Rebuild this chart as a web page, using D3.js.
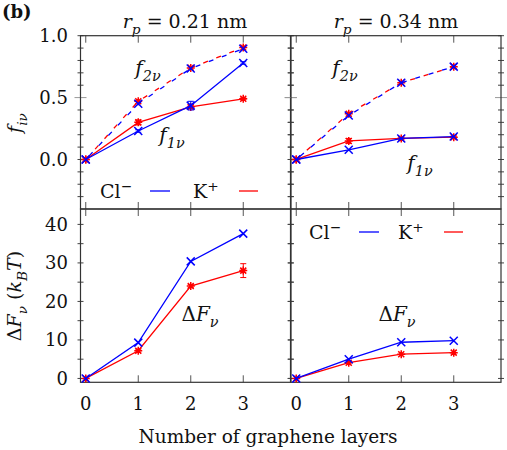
<!DOCTYPE html>
<html>
<head>
<meta charset="utf-8">
<script src="https://cdn.jsdelivr.net/npm/d3@7"></script>
<style>
  body{margin:0;background:#fff;}
  text{font-family:"DejaVu Serif",serif;fill:#111;}
</style>
</head>
<body>
<div id="chart"></div>
<script>
// data
const layers = [0, 1, 2, 3];

// r_p = 0.21 nm
const f1Cl021 = [0, 0.23, 0.435, 0.78];
const f1K021  = [0, 0.30, 0.425, 0.49];
const f2Cl021 = [0, 0.45, 0.735, 0.895];
const f2K021  = [0, 0.47, 0.74, 0.905];
const f1Cl021Err = [0, 0.01, 0.035, 0.01];
const f1K021Err  = [0, 0.02, 0.01, 0.008];
const dFCl021 = [0, 9.3, 30.4, 37.6];
const dFK021  = [0, 7.2, 24.0, 28.0];
const dFK021Err = [0, 0.4, 0.4, 1.8];

// r_p = 0.34 nm
const f1Cl034 = [0, 0.078, 0.17, 0.185];
const f1K034  = [0, 0.15, 0.17, 0.18];
const f2Cl034 = [0, 0.355, 0.62, 0.75];
const f2K034  = [0, 0.37, 0.62, 0.75];
const f1K034Err = [0, 0.02, 0.008, 0.008];
const dFCl034 = [0, 5.0, 9.4, 9.8];
const dFK034  = [0, 4.1, 6.3, 6.7];

const xTicks = [0, 1, 2, 3];
const fTicks = [0, 0.5, 1.0];
const dFTicks = [0, 10, 20, 30, 40];

const BLUE = '#0000ff', RED = '#ff0000';

const W = 507, H = 450;
const svg = d3.select('#chart').append('svg').attr('width', W).attr('height', H);

const colX = [80.5, 291], colW = 210;
const rowY = [35.7, 209], rowH = [173.3, 173.3];

const x0 = d3.scaleLinear().domain([-0.1, 3.9]).range([colX[0], colX[0] + colW]);
const x1 = d3.scaleLinear().domain([-0.1, 3.9]).range([colX[1], colX[1] + colW]);
const yF = d3.scaleLinear().domain([-0.4, 1.0]).range([rowY[0] + rowH[0], rowY[0]]);
const yD = d3.scaleLinear().domain([-1, 44]).range([rowY[1] + rowH[1], rowY[1]]);

function frame(x, y, yMinor, yMajor) {
  const g = svg.append('g');
  const [xa, xb] = x.range(), [ya, yb] = y.range();
  // inward ticks on all four sides
  xTicks.forEach(t => {
    g.append('line').attr('x1', x(t)).attr('x2', x(t)).attr('y1', ya).attr('y2', ya - 7)
      .attr('stroke', '#555');
    g.append('line').attr('x1', x(t)).attr('x2', x(t)).attr('y1', yb).attr('y2', yb + 7)
      .attr('stroke', '#555');
  });
  yMinor.forEach(t => {
    if (yMajor.includes(t)) return;
    g.append('line').attr('x1', xa - 3).attr('x2', xa + 3).attr('y1', y(t)).attr('y2', y(t)).attr('stroke', '#444');
    g.append('line').attr('x1', xb - 3).attr('x2', xb + 3).attr('y1', y(t)).attr('y2', y(t)).attr('stroke', '#444');
  });
  yMajor.forEach(t => {
    g.append('line').attr('x1', xa - 6).attr('x2', xa + 6).attr('y1', y(t)).attr('y2', y(t)).attr('stroke', '#999');
    g.append('line').attr('x1', xb - 6).attr('x2', xb + 6).attr('y1', y(t)).attr('y2', y(t)).attr('stroke', '#999');
  });
  g.append('rect').attr('x', xa).attr('y', yb).attr('width', xb - xa).attr('height', ya - yb)
    .attr('fill', 'none').attr('stroke', '#333').attr('stroke-width', 1.2);
}

const fMinor = d3.range(-0.3, 1.0001, 0.1).map(v => +v.toFixed(1));
const dMinor = d3.range(0, 44, 5);
frame(x0, yF, fMinor, [0.5]);
frame(x1, yF, fMinor, [0.5]);
frame(x0, yD, dMinor, []);
frame(x1, yD, dMinor, []);

function series(x, y, vals, color, dashed, offset, marker, err) {
  const g = svg.append('g');
  const line = d3.line().x((d, i) => x(layers[i])).y(d => y(d));
  g.append('path').attr('d', line(vals)).attr('fill', 'none').attr('stroke', color)
    .attr('stroke-width', 1.3)
    .attr('stroke-dasharray', dashed ? '5,9' : null)
    .attr('stroke-dashoffset', dashed ? offset : null);
  if (err) {
    vals.forEach((v, i) => {
      if (!err[i]) return;
      const cx = x(layers[i]);
      g.append('path')
        .attr('d', `M${cx},${y(v - err[i])}V${y(v + err[i])}M${cx - 3},${y(v - err[i])}h6M${cx - 3},${y(v + err[i])}h6`)
        .attr('stroke', color).attr('stroke-width', 1).attr('fill', 'none');
    });
  }
  const s = 4;
  vals.forEach((v, i) => {
    const cx = x(layers[i]), cy = y(v);
    const d = marker === 'x'
      ? `M${cx - s},${cy - s}L${cx + s},${cy + s}M${cx - s},${cy + s}L${cx + s},${cy - s}`
      : `M${cx - s},${cy}H${cx + s}M${cx},${cy - s}V${cy + s}M${cx - 3},${cy - 3}L${cx + 3},${cy + 3}M${cx - 3},${cy + 3}L${cx + 3},${cy - 3}`;
    g.append('path').attr('d', d).attr('stroke', color).attr('stroke-width', 1.5).attr('fill', 'none');
  });
}

// top left
series(x0, yF, f2K021, RED, true, 0, '+');
series(x0, yF, f2Cl021, BLUE, true, -5, 'x');
series(x0, yF, f1K021, RED, false, 0, '+', f1K021Err);
series(x0, yF, f1Cl021, BLUE, false, 0, 'x', f1Cl021Err);
// top right
series(x1, yF, f2K034, RED, true, 0, '+');
series(x1, yF, f2Cl034, BLUE, true, -5, 'x');
series(x1, yF, f1K034, RED, false, 0, '+', f1K034Err);
series(x1, yF, f1Cl034, BLUE, false, 0, 'x');
// bottom
series(x0, yD, dFK021, RED, false, 0, '+', dFK021Err);
series(x0, yD, dFCl021, BLUE, false, 0, 'x');
series(x1, yD, dFK034, RED, false, 0, '+');
series(x1, yD, dFCl034, BLUE, false, 0, 'x');

// tick labels
const fs = 18;
fTicks.forEach(t => svg.append('text').attr('x', 68).attr('y', yF(t) + 6.5).attr('text-anchor', 'end')
  .style('font-size', fs + 'px').text(t.toFixed(1)));
dFTicks.forEach(t => svg.append('text').attr('x', 68).attr('y', yD(t) + 6.5).attr('text-anchor', 'end')
  .style('font-size', fs + 'px').text(t));
[x0, x1].forEach(x => xTicks.forEach(t => svg.append('text').attr('x', x(t)).attr('y', 410)
  .attr('text-anchor', 'middle').style('font-size', fs + 'px').text(t)));

// rich text helper: parts = [[text, style]] style: i italic, s subscript, S superscript
function rich(x, y, parts, size, anchor, rotate) {
  const t = svg.append('text').attr('x', x).attr('y', y).attr('text-anchor', anchor || 'middle')
    .style('font-size', size + 'px');
  if (rotate) t.attr('transform', `rotate(-90,${x},${y})`);
  let shift = 0;
  parts.forEach(([txt, st]) => {
    const sp = t.append('tspan').text(txt);
    let want = 0;
    if (st && st.includes('s')) { want = size * 0.3; sp.style('font-size', size * 0.72 + 'px'); }
    if (st && st.includes('S')) { want = -size * 0.38; sp.style('font-size', size * 0.72 + 'px'); }
    if (want !== shift) { sp.attr('dy', want - shift); shift = want; }
    if (st && st.includes('i')) sp.style('font-style', 'italic');
  });
  return t;
}

// panel titles
rich(185, 28, [['r', 'i'], ['p', 'is'], [' = 0.21 nm']], 19);
rich(396, 28, [['r', 'i'], ['p', 'is'], [' = 0.34 nm']], 19);
svg.append('text').attr('x', 2).attr('y', 18).style('font-size', '18px').style('font-weight', 'bold').text('(b)');

// axis labels
rich(21, 123, [['f', 'i'], ['iν', 'is']], 19, 'middle', true);
rich(21, 296, [['Δ'], ['F', 'i'], ['ν', 'is'], [' ('], ['k', 'i'], ['B', 'is'], ['T', 'i'], [')']], 19, 'middle', true);
svg.append('text').attr('x', 268).attr('y', 443).attr('text-anchor', 'middle').style('font-size', '18.5px')
  .text('Number of graphene layers');

// curve labels
rich(148, 75, [['f', 'i'], ['2ν', 'is']], 20);
rich(172, 142, [['f', 'i'], ['1ν', 'is']], 20);
rich(345, 75, [['f', 'i'], ['2ν', 'is']], 20);
rich(420, 170, [['f', 'i'], ['1ν', 'is']], 20);
rich(200, 321, [['Δ'], ['F', 'i'], ['ν', 'is']], 20);
rich(397, 321, [['Δ'], ['F', 'i'], ['ν', 'is']], 20);

// legends
function legend(xc, xk, y) {
  rich(xc, y + 7, [['Cl'], ['−', 'S']], 19, 'start');
  svg.append('line').attr('x1', xc + 50).attr('x2', xc + 70).attr('y1', y).attr('y2', y).attr('stroke', BLUE).attr('stroke-width', 1.3);
  rich(xk, y + 7, [['K'], ['+', 'S']], 19, 'start');
  svg.append('line').attr('x1', xk + 46).attr('x2', xk + 65).attr('y1', y).attr('y2', y).attr('stroke', RED).attr('stroke-width', 1.3);
}
legend(100, 193, 191);
legend(309, 398, 232);
</script>
</body>
</html>
